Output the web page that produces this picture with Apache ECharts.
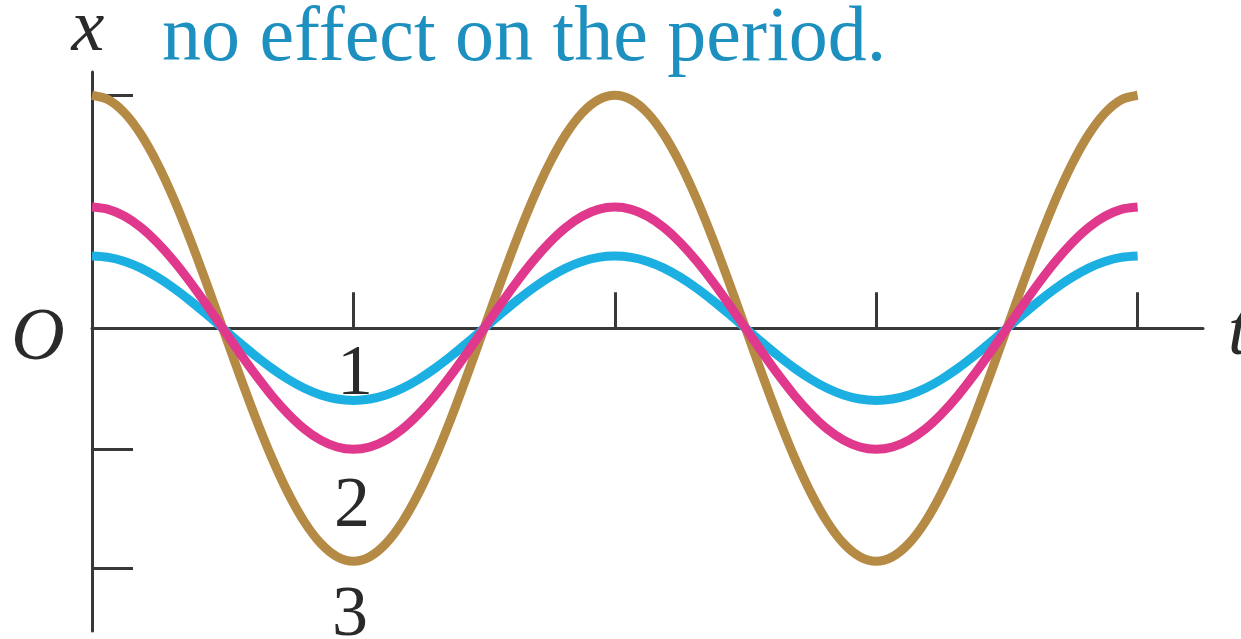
<!DOCTYPE html>
<html>
<head>
<meta charset="utf-8">
<title>Oscillations with different amplitudes</title>
<script src="https://cdn.jsdelivr.net/npm/echarts@6/dist/echarts.min.js"></script>
<style>
  html, body { margin: 0; padding: 0; background: #ffffff; }
  #chart { width: 1241px; height: 639px; }
</style>
</head>
<body>
<div id="chart"></div>
<script>
// Time samples (one tick = half a period) and displacement of each oscillator.
var times = [
  0, 0.0625, 0.125, 0.1875, 0.25, 0.3125, 0.375, 0.4375,
  0.5, 0.5625, 0.625, 0.6875, 0.75, 0.8125, 0.875, 0.9375,
  1, 1.0625, 1.125, 1.1875, 1.25, 1.3125, 1.375, 1.4375,
  1.5, 1.5625, 1.625, 1.6875, 1.75, 1.8125, 1.875, 1.9375,
  2, 2.0625, 2.125, 2.1875, 2.25, 2.3125, 2.375, 2.4375,
  2.5, 2.5625, 2.625, 2.6875, 2.75, 2.8125, 2.875, 2.9375,
  3, 3.0625, 3.125, 3.1875, 3.25, 3.3125, 3.375, 3.4375,
  3.5, 3.5625, 3.625, 3.6875, 3.75, 3.8125, 3.875, 3.9375,
  4
];

// Curve 1 (smallest amplitude)
var curve1 = [
  0.620, 0.608, 0.573, 0.516, 0.438, 0.344, 0.237, 0.121, 0, -0.121, -0.237, -0.344, -0.438, -0.516, -0.573, -0.608,
  -0.620, -0.608, -0.573, -0.516, -0.438, -0.344, -0.237, -0.121, 0, 0.121, 0.237, 0.344, 0.438, 0.516, 0.573, 0.608,
  0.620, 0.608, 0.573, 0.516, 0.438, 0.344, 0.237, 0.121, 0, -0.121, -0.237, -0.344, -0.438, -0.516, -0.573, -0.608,
  -0.620, -0.608, -0.573, -0.516, -0.438, -0.344, -0.237, -0.121, 0, 0.121, 0.237, 0.344, 0.438, 0.516, 0.573, 0.608,
  0.620
];

// Curve 2 (medium amplitude)
var curve2 = [
  1.040, 1.020, 0.961, 0.865, 0.735, 0.578, 0.398, 0.203, 0, -0.203, -0.398, -0.578, -0.735, -0.865, -0.961, -1.020,
  -1.040, -1.020, -0.961, -0.865, -0.735, -0.578, -0.398, -0.203, 0, 0.203, 0.398, 0.578, 0.735, 0.865, 0.961, 1.020,
  1.040, 1.020, 0.961, 0.865, 0.735, 0.578, 0.398, 0.203, 0, -0.203, -0.398, -0.578, -0.735, -0.865, -0.961, -1.020,
  -1.040, -1.020, -0.961, -0.865, -0.735, -0.578, -0.398, -0.203, 0, 0.203, 0.398, 0.578, 0.735, 0.865, 0.961, 1.020,
  1.040
];

// Curve 3 (largest amplitude)
var curve3 = [
  2.000, 1.962, 1.848, 1.663, 1.414, 1.111, 0.765, 0.390, 0, -0.390, -0.765, -1.111, -1.414, -1.663, -1.848, -1.962,
  -2.000, -1.962, -1.848, -1.663, -1.414, -1.111, -0.765, -0.390, 0, 0.390, 0.765, 1.111, 1.414, 1.663, 1.848, 1.962,
  2.000, 1.962, 1.848, 1.663, 1.414, 1.111, 0.765, 0.390, 0, -0.390, -0.765, -1.111, -1.414, -1.663, -1.848, -1.962,
  -2.000, -1.962, -1.848, -1.663, -1.414, -1.111, -0.765, -0.390, 0, 0.390, 0.765, 1.111, 1.414, 1.663, 1.848, 1.962,
  2.000
];

// Tick positions along each axis
var tTicks = [1, 2, 3, 4];
var xTicks = [2.00, -1.04, -2.06];

var curveLabels = ['1', '2', '3'];

function pairs(ys) {
  return times.map(function (t, i) { return [t, ys[i]]; });
}

var axisColor = '#383838';
var serif = '"Liberation Serif", "DejaVu Serif", serif';

var chart = echarts.init(document.getElementById('chart'), null, { renderer: 'canvas' });

function curveSeries(name, ys, color, z) {
  return {
    name: name,
    type: 'line',
    data: pairs(ys),
    smooth: 0.3,
    showSymbol: false,
    symbol: 'none',
    z: z,
    lineStyle: { color: color, width: 9, cap: 'butt', join: 'round' },
    emphasis: { disabled: true }
  };
}

function textItem(str, left, middle, size, color, italic, align) {
  return {
    type: 'text',
    x: left,
    y: middle,
    style: {
      text: str,
      fill: color,
      font: (italic ? 'italic ' : '') + size + 'px ' + serif,
      textAlign: align || 'center',
      textVerticalAlign: 'middle'
    },
    z: 10
  };
}

chart.setOption({
  animation: false,
  backgroundColor: '#ffffff',
  grid: { left: 92, top: 72, width: 1111, height: 559, containLabel: false },
  xAxis: {
    type: 'value',
    min: 0,
    max: 4.25,
    interval: 1,
    axisLine: { onZero: true, lineStyle: { color: axisColor, width: 3 } },
    axisTick: { show: true, inside: true, length: 36, customValues: tTicks,
                lineStyle: { color: axisColor, width: 3 } },
    axisLabel: { show: false },
    splitLine: { show: false }
  },
  yAxis: {
    type: 'value',
    min: -2.6,
    max: 2.2,
    axisLine: { show: true, onZero: false, lineStyle: { color: axisColor, width: 3 } },
    axisTick: { show: true, inside: true, length: 41, customValues: xTicks,
                lineStyle: { color: axisColor, width: 3 } },
    axisLabel: { show: false },
    splitLine: { show: false }
  },
  series: [
    curveSeries('3', curve3, '#b58a45', 2),
    curveSeries('1', curve1, '#1cb0e2', 3),
    curveSeries('2', curve2, '#e0388c', 4)
  ],
  graphic: [
    textItem('no effect on the period.', 162, 40, 78, '#1e90c0', false, 'left'),
    textItem('x', 88, 31, 74, '#2a2a2a', true),
    textItem('O', 38, 340, 74, '#2a2a2a', true),
    textItem('t', 1228, 335, 74, '#2a2a2a', true, 'left'),
    textItem(curveLabels[0], 355, 375, 72, '#2a2a2a', false),
    textItem(curveLabels[1], 352, 507, 72, '#2a2a2a', false),
    textItem(curveLabels[2], 350, 616, 72, '#2a2a2a', false)
  ]
});
</script>
</body>
</html>
